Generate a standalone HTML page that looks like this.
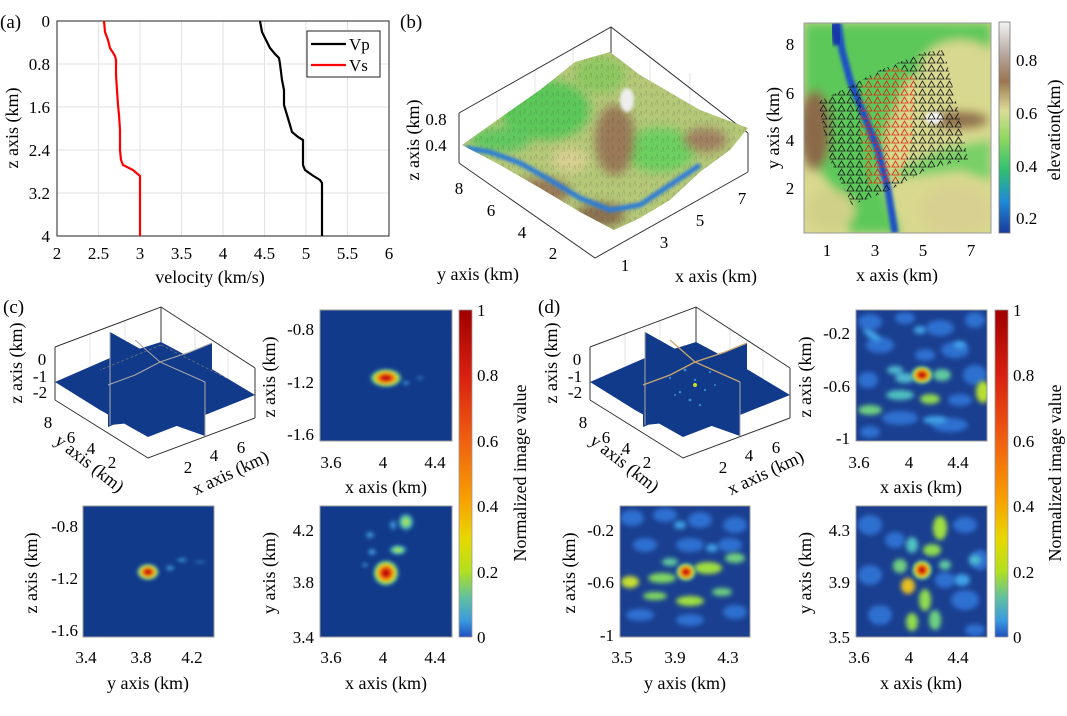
<!DOCTYPE html>
<html><head><meta charset="utf-8"><style>
html,body{margin:0;padding:0;background:#fff;}
svg, svg text{font-family:"Liberation Serif","DejaVu Serif","Times New Roman",Times,serif;}
</style></head><body>
<svg width="1067" height="711" viewBox="0 0 1067 711" xmlns="http://www.w3.org/2000/svg">
<defs>
<filter id="bl" x="-50%" y="-50%" width="200%" height="200%"><feGaussianBlur stdDeviation="2.5"/></filter>
<filter id="bl2" x="-50%" y="-50%" width="200%" height="200%"><feGaussianBlur stdDeviation="1.5"/></filter>
<filter id="bl6" x="-50%" y="-50%" width="200%" height="200%"><feGaussianBlur stdDeviation="5"/></filter>
<linearGradient id="jet" x1="0" y1="1" x2="0" y2="0">
<stop offset="0" stop-color="#2050c0"/><stop offset="0.05" stop-color="#3a9ae0"/>
<stop offset="0.12" stop-color="#60c0a0"/><stop offset="0.2" stop-color="#b0e020"/>
<stop offset="0.3" stop-color="#e8d800"/><stop offset="0.42" stop-color="#f8a000"/>
<stop offset="0.6" stop-color="#f06010"/><stop offset="0.8" stop-color="#d82010"/>
<stop offset="1" stop-color="#a00000"/></linearGradient>
<linearGradient id="elev" x1="0" y1="1" x2="0" y2="0">
<stop offset="0" stop-color="#1a3a9a"/><stop offset="0.15" stop-color="#1f8ad8"/>
<stop offset="0.3" stop-color="#30c070"/><stop offset="0.45" stop-color="#90d860"/>
<stop offset="0.58" stop-color="#dcdc98"/><stop offset="0.72" stop-color="#9a7550"/>
<stop offset="0.85" stop-color="#b8a8a0"/><stop offset="1" stop-color="#f4f4f4"/></linearGradient>
<radialGradient id="hot"><stop offset="0" stop-color="#a00000"/><stop offset="0.3" stop-color="#e02010"/><stop offset="0.55" stop-color="#f8c000"/><stop offset="0.75" stop-color="#80e060"/><stop offset="1" stop-color="#3a9ae0" stop-opacity="0"/></radialGradient>
<radialGradient id="grn"><stop offset="0" stop-color="#c0e830"/><stop offset="0.5" stop-color="#60d0a0"/><stop offset="1" stop-color="#3a9ae0" stop-opacity="0"/></radialGradient>
<radialGradient id="cy"><stop offset="0" stop-color="#50b8e8"/><stop offset="1" stop-color="#3080e0" stop-opacity="0"/></radialGradient>
<pattern id="tk" width="9" height="8" patternUnits="userSpaceOnUse"><path d="M1,7 L4.5,1 L8,7 Z" fill="none" stroke="#111" stroke-width="0.8"/></pattern>
<pattern id="tr" width="9" height="8" patternUnits="userSpaceOnUse"><path d="M1,7 L4.5,1 L8,7 Z" fill="none" stroke="#e02010" stroke-width="0.8"/></pattern>
<pattern id="rough" width="11" height="9" patternUnits="userSpaceOnUse"><path d="M1,8 L3,3 L4,8 M6,6 L8,1 L9,6" fill="none" stroke="#3a3020" stroke-width="0.5" opacity="0.25"/></pattern>
<clipPath id="cm"><rect x="804" y="23" width="187" height="210"/></clipPath>
<clipPath id="ct"><polygon points="462,145 500,118 540,90 575,62 610,52 640,75 700,110 748,128 730,150 700,172 670,200 640,218 614,230 580,212 540,188 500,165"/></clipPath>
<clipPath id="h1"><rect x="320" y="310" width="132" height="131"/></clipPath>
<clipPath id="h2"><rect x="83" y="506" width="131" height="131"/></clipPath>
<clipPath id="h3"><rect x="320" y="506" width="132" height="131"/></clipPath>
<clipPath id="h4"><rect x="856" y="310" width="131" height="131"/></clipPath>
<clipPath id="h5"><rect x="620" y="506" width="130" height="131"/></clipPath>
<clipPath id="h6"><rect x="856" y="506" width="131" height="131"/></clipPath>
</defs>

<!-- ===== Panel (a) ===== -->
<text x="0" y="28" font-size="19">(a)</text>
<g stroke="#e2e2e2" stroke-width="1">
<line x1="98.5" y1="21" x2="98.5" y2="236"/><line x1="140" y1="21" x2="140" y2="236"/><line x1="181.5" y1="21" x2="181.5" y2="236"/><line x1="223" y1="21" x2="223" y2="236"/><line x1="264.5" y1="21" x2="264.5" y2="236"/><line x1="306" y1="21" x2="306" y2="236"/><line x1="347.5" y1="21" x2="347.5" y2="236"/>
<line x1="57" y1="64" x2="389" y2="64"/><line x1="57" y1="107" x2="389" y2="107"/><line x1="57" y1="150" x2="389" y2="150"/><line x1="57" y1="193" x2="389" y2="193"/>
</g>
<rect x="57" y="21" width="332" height="215" fill="none" stroke="#222" stroke-width="1"/>
<polyline fill="none" stroke="#000" stroke-width="2.2" points="260,21 262,32 266,40 270,48 275,54 279,58 280,64 282,80 284,90 284,105 287,115 290,125 292,132 298,137 303,140 303,165 305,170 312,175 320,180 322,183 322,236"/>
<polyline fill="none" stroke="#f00" stroke-width="2.2" points="104,21 105,32 108,40 110,48 115,56 116,60 116,75 117,90 118,105 119,115 120,130 120,150 121,160 123,165 133,170 140,176 140,236"/>
<rect x="307" y="31" width="73" height="46" fill="#fff" stroke="#222" stroke-width="1"/>
<line x1="311" y1="44" x2="346" y2="44" stroke="#000" stroke-width="2.2"/>
<line x1="311" y1="65" x2="346" y2="65" stroke="#f00" stroke-width="2.2"/>
<text x="349" y="50" font-size="17">Vp</text><text x="349" y="71" font-size="17">Vs</text>
<g font-size="17" text-anchor="end">
<text x="50" y="27">0</text><text x="50" y="70">0.8</text><text x="50" y="113">1.6</text><text x="50" y="156">2.4</text><text x="50" y="199">3.2</text><text x="50" y="242">4</text></g>
<g font-size="17" text-anchor="middle">
<text x="57" y="259">2</text><text x="98.5" y="259">2.5</text><text x="140" y="259">3</text><text x="181.5" y="259">3.5</text><text x="223" y="259">4</text><text x="264.5" y="259">4.5</text><text x="306" y="259">5</text><text x="347.5" y="259">5.5</text><text x="389" y="259">6</text>
<text x="210" y="283" font-size="18">velocity (km/s)</text>
<text transform="translate(18,128) rotate(-90)" font-size="18">z axis (km)</text></g>

<!-- ===== Panel (b) 3D ===== -->
<text x="400" y="28" font-size="19">(b)</text>
<g stroke="#ddd" stroke-width="0.8" fill="none">
<line x1="497" y1="92" x2="497" y2="140"/><line x1="535" y1="70" x2="535" y2="120"/><line x1="573" y1="49" x2="573" y2="100"/>
<line x1="650" y1="49" x2="650" y2="100"/><line x1="690" y1="73" x2="690" y2="120"/>
</g>
<g stroke="#333" stroke-width="1" fill="none">
<polyline points="459,113 611,27 748,133"/><line x1="611" y1="27" x2="611" y2="80"/>
<line x1="459" y1="113" x2="459" y2="163"/><line x1="748" y1="133" x2="748" y2="172"/>
<polyline points="459,163 595,258 748,172"/></g>
<g clip-path="url(#ct)">
<rect x="455" y="45" width="300" height="190" fill="#b4c878"/>
<g filter="url(#bl6)">
<ellipse cx="545" cy="110" rx="45" ry="30" fill="#5cc85a"/>
<ellipse cx="600" cy="75" rx="25" ry="18" fill="#8cc860"/>
<ellipse cx="660" cy="150" rx="35" ry="22" fill="#6cd060"/>
<ellipse cx="615" cy="140" rx="20" ry="35" fill="#9a7a58"/>
<ellipse cx="540" cy="192" rx="30" ry="14" fill="#9a7a58"/>
<ellipse cx="705" cy="140" rx="22" ry="12" fill="#a08060"/>
<ellipse cx="500" cy="140" rx="30" ry="12" fill="#60c860"/>
<ellipse cx="600" cy="215" rx="25" ry="12" fill="#8a7050"/>
<ellipse cx="570" cy="160" rx="18" ry="12" fill="#d8d090"/>
</g>
<rect x="455" y="45" width="300" height="190" fill="url(#rough)"/>
<polyline points="465,148 490,152 520,163 550,180 580,198 610,210 640,205 670,185 700,165" fill="none" stroke="#2a7ad8" stroke-width="5" filter="url(#bl2)"/>
<ellipse cx="627" cy="100" rx="7" ry="12" fill="#eee" filter="url(#bl2)"/>
</g>
<g font-size="17" text-anchor="middle">
<text x="436" y="125">0.8</text><text x="436" y="151">0.4</text>
<text x="459" y="194">8</text><text x="491" y="216">6</text><text x="522" y="238">4</text><text x="553" y="259">2</text>
<text x="625" y="271">1</text><text x="664" y="248">3</text><text x="700" y="226">5</text><text x="742" y="204">7</text>
<text transform="translate(419,140) rotate(-90)" font-size="18">z axis (km)</text>
<text x="478" y="280" font-size="18">y axis (km)</text>
<text x="716" y="282" font-size="18">x axis (km)</text></g>

<!-- ===== Panel (b) map ===== -->
<g clip-path="url(#cm)">
<rect x="804" y="23" width="187" height="210" fill="#d8d88e"/>
<g filter="url(#bl6)">
<polygon points="804,23 991,23 991,50 950,60 905,80 885,130 880,180 900,233 850,233 835,190 812,160 804,150" fill="#5cc85a"/>
<polygon points="880,180 960,170 991,180 991,140 940,150" fill="#78d066"/>
<ellipse cx="960" cy="70" rx="40" ry="30" fill="#d8d890"/>
<ellipse cx="815" cy="130" rx="16" ry="40" fill="#8a6a48"/>
<ellipse cx="960" cy="120" rx="28" ry="8" fill="#8b6a4a"/>
<ellipse cx="955" cy="210" rx="35" ry="25" fill="#d8d090"/>
<ellipse cx="830" cy="210" rx="25" ry="20" fill="#d0d088"/>
</g>
<polyline points="838,23 842,50 850,80 862,110 878,150 888,190 895,233" fill="none" stroke="#1a50c8" stroke-width="7" filter="url(#bl2)"/>
<polyline points="834,23 838,45" fill="none" stroke="#1838a8" stroke-width="10" filter="url(#bl2)"/>
<ellipse cx="934" cy="118" rx="9" ry="6" fill="#f4f4f4" filter="url(#bl2)"/>
<path d="M818,102 L846,88 L880,70 L925,52 L944,50 L958,110 L968,160 L930,168 L890,190 L852,205 L830,160 Z M862,82 L895,67 L915,75 L912,140 L900,180 L868,186 L860,130 Z" fill="url(#tk)" fill-rule="evenodd"/>
<path d="M862,82 L895,67 L915,75 L912,140 L900,180 L868,186 L860,130 Z" fill="url(#tr)"/>
</g>
<rect x="804" y="23" width="187" height="210" fill="none" stroke="#999" stroke-width="1"/>
<rect x="999" y="22" width="11" height="211" fill="url(#elev)" stroke="#777" stroke-width="0.8"/>
<g font-size="17">
<text x="1016" y="66">0.8</text><text x="1016" y="119">0.6</text><text x="1016" y="172">0.4</text><text x="1016" y="224">0.2</text></g>
<g font-size="17" text-anchor="middle">
<text x="827" y="256">1</text><text x="875" y="256">3</text><text x="923" y="256">5</text><text x="971" y="256">7</text>
<text x="790" y="50">8</text><text x="790" y="99">6</text><text x="790" y="146">4</text><text x="790" y="194">2</text>
<text transform="translate(779,128) rotate(-90)" font-size="18">y axis (km)</text>
<text x="897" y="281" font-size="18">x axis (km)</text>
<text transform="translate(1060,130) rotate(-90)" font-size="18">elevation(km)</text></g>

<!-- ===== Panel (c) ===== -->
<text x="3" y="313" font-size="19">(c)</text>
<g stroke="#ddd" stroke-width="0.8"><line x1="90" y1="334" x2="90" y2="385"/><line x1="125" y1="320" x2="125" y2="372"/><line x1="195" y1="325" x2="195" y2="380"/><line x1="228" y1="345" x2="228" y2="400"/></g>
<g stroke="#333" stroke-width="1" fill="none">
<polyline points="55,347 161,307 255,368"/><line x1="161" y1="307" x2="161" y2="345"/>
<line x1="55" y1="347" x2="55" y2="400"/><line x1="255" y1="368" x2="255" y2="418"/>
<polyline points="55,400 148,458 255,418"/></g>
<g fill="#123a8a">
<polygon points="55,382 110,358 161,342 210,368 255,395 205,415 148,437 100,410"/>
<polygon points="110,332 160,360 205,382 205,436 160,420 110,425"/>
<polygon points="212,343 160,365 108,385 108,427 160,405 212,395"/>
</g>
<g stroke="#aaa" stroke-width="1" fill="none"><polyline points="110,332 110,425 "/><polyline points="108,385 135,375 160,362 190,352 212,343"/><polyline points="135,340 160,362 205,382 205,436"/></g>
<g stroke="#777" stroke-width="0.7" stroke-dasharray="3,2" fill="none"><line x1="161" y1="345" x2="100" y2="370"/><line x1="161" y1="345" x2="230" y2="380"/></g>
<g font-size="17" text-anchor="middle">
<text x="42" y="365">0</text><text x="40" y="382">-1</text><text x="40" y="398">-2</text>
<text x="48" y="428">8</text><text x="71" y="443">6</text><text x="91" y="454">4</text><text x="112" y="468">2</text>
<text x="188" y="473">2</text><text x="214" y="461">4</text><text x="241" y="453">6</text>
<text transform="translate(22,363) rotate(-90)" font-size="18">z axis (km)</text>
<text transform="translate(86,468) rotate(38)" font-size="18">y axis (km)</text>
<text transform="translate(233,478) rotate(-25)" font-size="18">x axis (km)</text></g>

<!-- heatmaps c -->
<g clip-path="url(#h1)"><rect x="320" y="310" width="132" height="131" fill="#123a8a"/>
<g filter="url(#bl2)"><ellipse cx="386" cy="378" rx="17" ry="10" fill="url(#hot)"/><ellipse cx="406" cy="383" rx="5" ry="3" fill="url(#cy)"/><ellipse cx="420" cy="378" rx="5" ry="3" fill="url(#cy)" opacity="0.6"/></g></g>
<rect x="320" y="310" width="132" height="131" fill="none" stroke="#999"/>
<g clip-path="url(#h2)"><rect x="83" y="506" width="131" height="131" fill="#123a8a"/>
<g filter="url(#bl2)"><ellipse cx="148" cy="572" rx="12" ry="9" fill="url(#hot)"/><ellipse cx="170" cy="568" rx="6" ry="4" fill="url(#cy)"/><ellipse cx="182" cy="560" rx="7" ry="3" fill="url(#cy)"/><ellipse cx="200" cy="562" rx="8" ry="3" fill="url(#cy)" opacity="0.5"/></g></g>
<rect x="83" y="506" width="131" height="131" fill="none" stroke="#999"/>
<g clip-path="url(#h3)"><rect x="320" y="506" width="132" height="131" fill="#123a8a"/>
<g filter="url(#bl2)"><ellipse cx="386" cy="573" rx="14" ry="14" fill="url(#hot)"/>
<ellipse cx="406" cy="522" rx="9" ry="10" fill="url(#grn)"/><ellipse cx="398" cy="550" rx="10" ry="6" fill="url(#grn)"/>
<ellipse cx="393" cy="525" rx="5" ry="7" fill="url(#cy)"/><ellipse cx="370" cy="535" rx="6" ry="5" fill="url(#cy)"/><ellipse cx="372" cy="552" rx="6" ry="5" fill="url(#cy)"/><ellipse cx="365" cy="565" rx="4" ry="3" fill="url(#cy)"/></g></g>
<rect x="320" y="506" width="132" height="131" fill="none" stroke="#999"/>
<rect x="459" y="310" width="13" height="327" fill="url(#jet)" stroke="#999" stroke-width="0.8"/>
<g font-size="17">
<text x="477" y="316">1</text><text x="477" y="381">0.8</text><text x="477" y="447">0.6</text><text x="477" y="512">0.4</text><text x="477" y="578">0.2</text><text x="477" y="643">0</text></g>
<g font-size="17" text-anchor="end">
<text x="314" y="335">-0.8</text><text x="314" y="388">-1.2</text><text x="314" y="440">-1.6</text>
<text x="78" y="532">-0.8</text><text x="78" y="584">-1.2</text><text x="78" y="636">-1.6</text>
<text x="314" y="536">4.2</text><text x="314" y="588">3.8</text><text x="314" y="643">3.4</text></g>
<g font-size="17" text-anchor="middle">
<text x="331" y="468">3.6</text><text x="383" y="468">4</text><text x="435" y="468">4.4</text>
<text x="331" y="663">3.6</text><text x="383" y="663">4</text><text x="435" y="663">4.4</text>
<text x="86" y="663">3.4</text><text x="141" y="663">3.8</text><text x="192" y="663">4.2</text>
<text x="386" y="493" font-size="18">x axis (km)</text><text x="386" y="689" font-size="18">x axis (km)</text><text x="148" y="689" font-size="18">y axis (km)</text>
<text transform="translate(275,377) rotate(-90)" font-size="18">z axis (km)</text>
<text transform="translate(37,573) rotate(-90)" font-size="18">z axis (km)</text>
<text transform="translate(275,573) rotate(-90)" font-size="18">y axis (km)</text>
<text transform="translate(526,473) rotate(-90)" font-size="18">Normalized image value</text></g>

<!-- ===== Panel (d) ===== -->
<text x="538" y="313" font-size="19">(d)</text>
<g transform="translate(535,0)">
<g stroke="#ddd" stroke-width="0.8"><line x1="90" y1="334" x2="90" y2="385"/><line x1="125" y1="320" x2="125" y2="372"/><line x1="195" y1="325" x2="195" y2="380"/><line x1="228" y1="345" x2="228" y2="400"/></g>
<g stroke="#333" stroke-width="1" fill="none">
<polyline points="55,347 161,307 255,368"/><line x1="161" y1="307" x2="161" y2="345"/>
<line x1="55" y1="347" x2="55" y2="400"/><line x1="255" y1="368" x2="255" y2="418"/>
<polyline points="55,400 148,458 255,418"/></g>
<g fill="#123a8a">
<polygon points="55,382 110,358 161,342 210,368 255,395 205,415 148,437 100,410"/>
<polygon points="110,332 160,360 205,382 205,436 160,420 110,425"/>
<polygon points="212,343 160,365 108,385 108,427 160,405 212,395"/>
</g>
<g fill="#3a9ae0" opacity="0.8"><circle cx="150" cy="370" r="1.5"/><circle cx="160" cy="380" r="1.2"/><circle cx="145" cy="392" r="1.3"/><circle cx="170" cy="390" r="1.2"/><circle cx="155" cy="400" r="1.5"/><circle cx="135" cy="378" r="1.2"/><circle cx="175" cy="372" r="1.2"/><circle cx="165" cy="405" r="1.2"/><circle cx="140" cy="395" r="1"/><circle cx="180" cy="385" r="1"/></g>
<circle cx="160" cy="385" r="2" fill="#d0e020"/>
<g stroke="#c8a870" stroke-width="1.3" fill="none"><polyline points="108,385 135,375 160,362 190,352 212,343"/><polyline points="135,340 160,362 205,382"/></g>
<g stroke="#aaa" stroke-width="1" fill="none"><polyline points="110,332 110,425"/><polyline points="205,382 205,436"/></g>
<g font-size="17" text-anchor="middle">
<text x="42" y="365">0</text><text x="40" y="382">-1</text><text x="40" y="398">-2</text>
<text x="48" y="428">8</text><text x="71" y="443">6</text><text x="91" y="454">4</text><text x="112" y="468">2</text>
<text x="188" y="473">2</text><text x="214" y="461">4</text><text x="241" y="453">6</text>
<text transform="translate(22,363) rotate(-90)" font-size="18">z axis (km)</text>
<text transform="translate(86,468) rotate(38)" font-size="18">y axis (km)</text>
<text transform="translate(233,478) rotate(-25)" font-size="18">x axis (km)</text></g>
</g>

<g clip-path="url(#h4)"><rect x="856" y="310" width="131" height="131" fill="#1a3f90"/>
<g filter="url(#bl)" fill="#2f70d0">
<ellipse cx="870" cy="322" rx="12" ry="8"/><ellipse cx="905" cy="318" rx="10" ry="6"/><ellipse cx="940" cy="328" rx="14" ry="8"/><ellipse cx="975" cy="320" rx="10" ry="8"/>
<ellipse cx="880" cy="345" rx="14" ry="8"/><ellipse cx="955" cy="350" rx="14" ry="8"/><ellipse cx="975" cy="375" rx="12" ry="10"/>
<ellipse cx="868" cy="380" rx="10" ry="8"/><ellipse cx="900" cy="418" rx="18" ry="7"/><ellipse cx="950" cy="425" rx="18" ry="7"/><ellipse cx="960" cy="400" rx="12" ry="6"/>
<ellipse cx="925" cy="355" rx="10" ry="6"/><ellipse cx="870" cy="432" rx="10" ry="6"/>
</g>
<g filter="url(#bl)">
<ellipse cx="872" cy="335" rx="10" ry="4" fill="#40a0e8" transform="rotate(35 872 335)"/><ellipse cx="920" cy="330" rx="6" ry="4" fill="#40a0e8"/>
<ellipse cx="960" cy="345" rx="6" ry="4" fill="#40a0e8"/><ellipse cx="895" cy="370" rx="8" ry="4" fill="#50b8d0"/>
<ellipse cx="900" cy="395" rx="14" ry="5" fill="#50c0c0"/><ellipse cx="930" cy="399" rx="10" ry="5" fill="#90dc50"/><ellipse cx="870" cy="410" rx="12" ry="5" fill="#70d080"/>
<ellipse cx="983" cy="392" rx="7" ry="11" fill="#b8e030"/><ellipse cx="935" cy="420" rx="12" ry="4" fill="#40a0e8"/>
<ellipse cx="905" cy="378" rx="10" ry="5" fill="#50b8d0"/><ellipse cx="942" cy="375" rx="9" ry="6" fill="#60c8a0"/>
</g>
<ellipse cx="922" cy="375" rx="12" ry="10" fill="url(#hot)" filter="url(#bl2)"/></g>
<rect x="856" y="310" width="131" height="131" fill="none" stroke="#999"/>

<g clip-path="url(#h5)"><rect x="620" y="506" width="130" height="131" fill="#1a3f90"/>
<g filter="url(#bl)" fill="#2f70d0">
<ellipse cx="632" cy="518" rx="12" ry="8"/><ellipse cx="665" cy="515" rx="12" ry="7"/><ellipse cx="700" cy="520" rx="12" ry="8"/><ellipse cx="735" cy="525" rx="12" ry="8"/>
<ellipse cx="645" cy="545" rx="12" ry="7"/><ellipse cx="690" cy="545" rx="14" ry="7"/><ellipse cx="730" cy="545" rx="12" ry="7"/>
<ellipse cx="640" cy="615" rx="14" ry="6"/><ellipse cx="690" cy="620" rx="14" ry="6"/><ellipse cx="735" cy="612" rx="12" ry="7"/>
</g>
<g filter="url(#bl)">
<ellipse cx="680" cy="525" rx="6" ry="4" fill="#40a0e8"/><ellipse cx="712" cy="548" rx="6" ry="4" fill="#40a0e8"/>
<ellipse cx="662" cy="578" rx="14" ry="5" fill="#80d860"/><ellipse cx="708" cy="568" rx="14" ry="6" fill="#a0e040"/><ellipse cx="735" cy="558" rx="10" ry="5" fill="#70d080"/>
<ellipse cx="630" cy="582" rx="9" ry="6" fill="#c8e030"/><ellipse cx="655" cy="596" rx="12" ry="4" fill="#80d860"/><ellipse cx="690" cy="601" rx="14" ry="5" fill="#a0e040"/><ellipse cx="722" cy="592" rx="10" ry="4" fill="#70d080"/>
<ellipse cx="670" cy="562" rx="8" ry="4" fill="#60c8a0"/>
</g>
<ellipse cx="686" cy="572" rx="11" ry="10" fill="url(#hot)" filter="url(#bl2)"/></g>
<rect x="620" y="506" width="130" height="131" fill="none" stroke="#999"/>

<g clip-path="url(#h6)"><rect x="856" y="506" width="131" height="131" fill="#1a3f90"/>
<g filter="url(#bl)" fill="#2f70d0">
<ellipse cx="870" cy="525" rx="12" ry="10"/><ellipse cx="895" cy="540" rx="10" ry="8"/><ellipse cx="965" cy="525" rx="12" ry="8"/><ellipse cx="980" cy="560" rx="10" ry="10"/>
<ellipse cx="870" cy="575" rx="12" ry="10"/><ellipse cx="880" cy="615" rx="12" ry="10"/><ellipse cx="965" cy="600" rx="14" ry="10"/><ellipse cx="975" cy="630" rx="10" ry="6"/>
<ellipse cx="945" cy="580" rx="10" ry="8"/>
</g>
<g filter="url(#bl)">
<ellipse cx="940" cy="528" rx="7" ry="12" fill="#a0e040"/><ellipse cx="932" cy="550" rx="9" ry="6" fill="#90dc50"/><ellipse cx="912" cy="545" rx="6" ry="8" fill="#50c0c0"/>
<ellipse cx="900" cy="566" rx="7" ry="7" fill="#70d080"/><ellipse cx="908" cy="586" rx="7" ry="8" fill="#e8c020"/>
<ellipse cx="925" cy="600" rx="6" ry="11" fill="#90dc50"/><ellipse cx="912" cy="622" rx="6" ry="9" fill="#90dc50"/><ellipse cx="935" cy="620" rx="6" ry="10" fill="#70d080"/>
<ellipse cx="962" cy="580" rx="8" ry="6" fill="#40a0e8"/><ellipse cx="975" cy="560" rx="6" ry="5" fill="#50b8d0"/><ellipse cx="945" cy="565" rx="6" ry="5" fill="#60c8a0"/>
</g>
<ellipse cx="922" cy="570" rx="11" ry="11" fill="url(#hot)" filter="url(#bl2)"/></g>
<rect x="856" y="506" width="131" height="131" fill="none" stroke="#999"/>
<rect x="995" y="310" width="13" height="327" fill="url(#jet)" stroke="#999" stroke-width="0.8"/>
<g font-size="17">
<text x="1013" y="316">1</text><text x="1013" y="381">0.8</text><text x="1013" y="447">0.6</text><text x="1013" y="512">0.4</text><text x="1013" y="578">0.2</text><text x="1013" y="643">0</text></g>
<g font-size="17" text-anchor="end">
<text x="850" y="339">-0.2</text><text x="850" y="392">-0.6</text><text x="850" y="444">-1</text>
<text x="614" y="536">-0.2</text><text x="614" y="588">-0.6</text><text x="614" y="641">-1</text>
<text x="850" y="536">4.3</text><text x="850" y="588">3.9</text><text x="850" y="643">3.5</text></g>
<g font-size="17" text-anchor="middle">
<text x="859" y="468">3.6</text><text x="909" y="468">4</text><text x="958" y="468">4.4</text>
<text x="859" y="663">3.6</text><text x="909" y="663">4</text><text x="958" y="663">4.4</text>
<text x="622" y="663">3.5</text><text x="675" y="663">3.9</text><text x="728" y="663">4.3</text>
<text x="921" y="493" font-size="18">x axis (km)</text><text x="921" y="689" font-size="18">x axis (km)</text><text x="685" y="689" font-size="18">y axis (km)</text>
<text transform="translate(811,377) rotate(-90)" font-size="18">z axis (km)</text>
<text transform="translate(575,573) rotate(-90)" font-size="18">z axis (km)</text>
<text transform="translate(811,573) rotate(-90)" font-size="18">y axis (km)</text>
<text transform="translate(1061,473) rotate(-90)" font-size="18">Normalized image value</text></g>
</svg>
</body></html>
